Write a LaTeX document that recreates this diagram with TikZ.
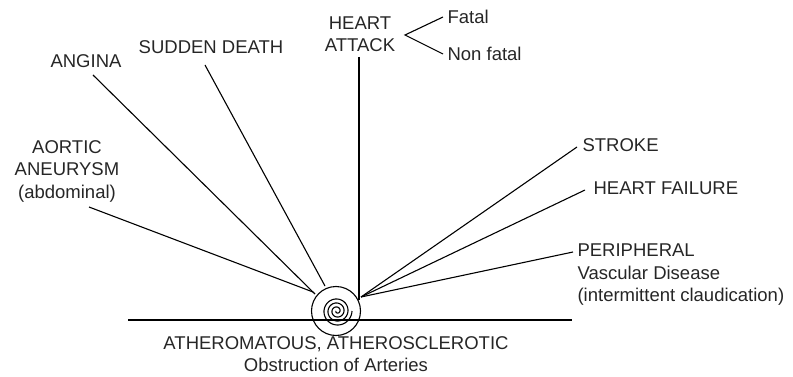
\documentclass[tikz,border=0pt]{standalone}
\usepackage{fontspec}
\setmainfont{Liberation Sans}
\begin{document}
\begin{tikzpicture}[
        x={(1pt,0pt)},
        y={(0pt,-1pt)},
        line width=1.1pt,
        lbl/.style={font=\fontsize{18.5}{22.5}\selectfont, inner sep=0pt, text=black!85}
    ]
    \useasboundingbox (0,0) rectangle (793,377);

    \coordinate (O) at (336,311);
    \coordinate (G1) at (128,320);
    \coordinate (G2) at (572,320);

    % ends of the rays at the artery
    \coordinate (Ea) at (313,292);
    \coordinate (Eb) at (315,294);
    \coordinate (Ec) at (325,286);
    \coordinate (Ed) at (359,300);
    \coordinate (Ee) at (361,297);

    % ends of the rays at the labels
    \coordinate (Sa) at (89,207);
    \coordinate (Sb) at (93,75);
    \coordinate (Sc) at (205,65);
    \coordinate (Sd) at (359,57);
    \coordinate (Se) at (577,147);
    \coordinate (Sf) at (585,190);
    \coordinate (Sg) at (573,252);
    \coordinate (fork) at (405,35);

    \node[lbl, align=center] (aortic) at (67,171) {AORTIC\\ANEURYSM\\(abdominal)};
    \node[lbl] (angina) at (86,61) {ANGINA};
    \node[lbl] (sudden) at (211,47) {SUDDEN DEATH};
    \node[lbl, align=center] (attack) at (360,34) {HEART\\ATTACK};
    \node[lbl, anchor=west, inner sep=4pt] (fatal) at (443,17) {Fatal};
    \node[lbl, anchor=west, inner sep=4pt] (nonfatal) at (443,54) {Non fatal};
    \node[lbl, anchor=west] (stroke) at (582,145) {STROKE};
    \node[lbl, anchor=west] (failure) at (593,188) {HEART FAILURE};
    \node[lbl, anchor=west, align=left] (periph) at (577,275) {PERIPHERAL\\Vascular Disease\\(intermittent claudication)};
    \node[lbl, align=center] (athero) at (336,354) {ATHEROMATOUS, ATHEROSCLEROTIC\\Obstruction of Arteries};

    \draw (G1) -- (G2);
    \draw (Sa) -- (Ea);
    \draw (Sb) -- (Eb);
    \draw (Sc) -- (Ec);
    \draw (Sd) -- (Ed);
    \draw (Se) -- (Ee);
    \draw (Sf) -- (Ee);
    \draw (Sg) -- (Ee);
    \draw (fatal.west) -- (fork) -- (nonfatal.west);

    \draw (O) circle (24.5);
    \draw plot[domain=0:1260, samples=160, smooth]
        ({337+(15-\x/90)*cos(\x)}, {311+(15-\x/90)*sin(\x)});

\end{tikzpicture}
\end{document}
